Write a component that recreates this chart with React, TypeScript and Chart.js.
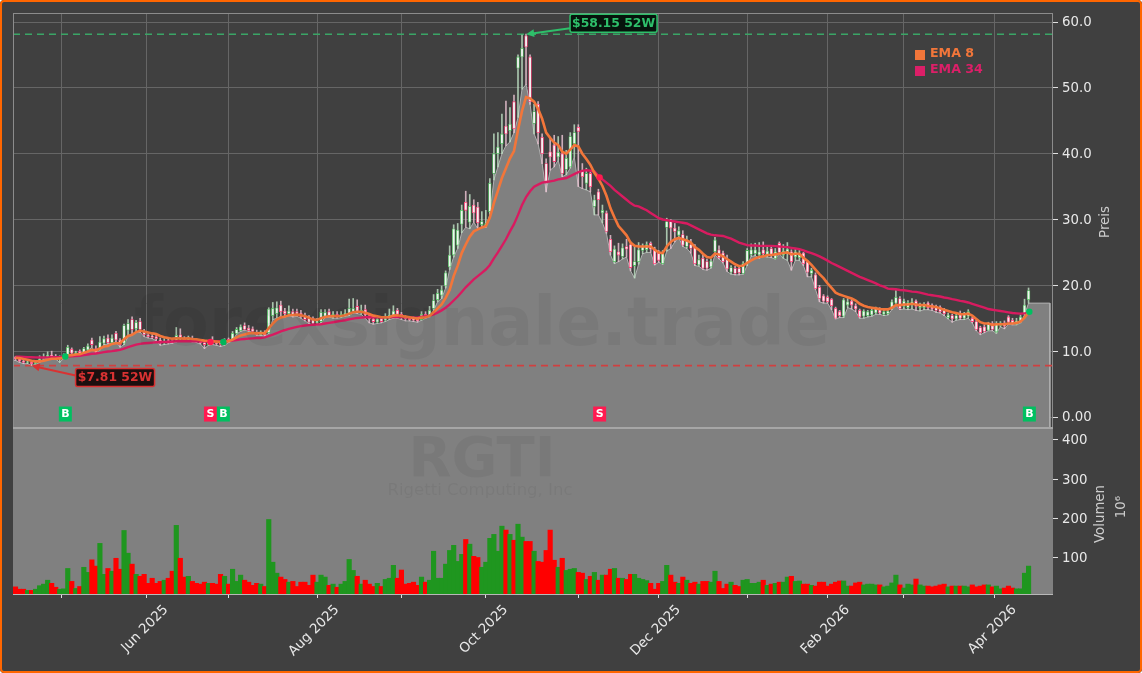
import React, { useEffect, useRef } from 'react';
import { Chart, registerables } from 'chart.js';

Chart.register(...registerables);

const FONT = '"DejaVu Sans"';

const opens = [
    9.1,8.8,8.5,8.3,8.3,8.1,8.4,8.9,9.1,9.4,
    9.2,8.9,9.1,9.2,10.3,9.6,10.0,9.8,10.2,11.7,
    10.4,10.3,11.2,12.0,11.3,12.7,11.7,11.2,13.2,14.8,
    13.4,14.5,13.0,12.5,12.3,12.2,11.7,11.2,11.6,11.6,
    11.6,12.5,12.0,11.7,12.0,11.7,11.5,11.3,11.0,11.7,
    11.3,11.3,11.0,11.8,11.7,12.7,13.1,13.9,13.5,13.4,
    12.9,12.5,12.9,12.8,15.4,15.7,17.0,16.1,15.7,16.0,
    16.0,15.8,15.4,15.0,15.0,14.3,14.5,15.3,16.0,15.3,
    15.6,15.2,15.4,15.5,16.0,16.8,15.8,16.3,15.4,14.9,
    14.4,15.0,14.7,15.0,15.3,16.2,15.6,15.2,15.0,15.0,
    14.9,14.8,15.6,15.4,16.5,17.8,18.5,19.9,22.8,24.6,
    26.1,29.3,32.6,29.6,32.2,31.9,29.2,29.0,31.2,37.0,
    40.0,41.5,44.2,43.5,47.9,53.0,54.7,57.9,54.7,44.6,
    47.5,42.5,38.5,40.3,41.3,39.5,40.0,37.6,38.0,41.5,
    44.0,37.5,35.5,37.0,32.0,34.2,31.0,31.0,27.0,23.6,
    25.1,24.4,25.9,26.2,23.0,23.6,25.3,25.4,26.4,25.4,
    24.9,23.3,28.8,29.7,28.7,27.6,27.7,25.9,26.2,25.9,
    23.1,24.1,23.6,22.8,25.1,25.4,24.9,24.0,22.0,22.6,
    22.6,21.8,23.3,24.7,24.8,24.6,25.4,24.6,25.6,24.1,
    26.4,24.6,24.9,25.1,24.3,24.2,24.9,23.6,21.8,21.6,
    19.7,18.4,18.2,17.9,16.5,16.0,15.3,17.0,17.6,16.9,
    16.2,15.3,15.4,15.5,15.8,16.3,15.6,15.7,16.5,17.3,
    18.0,16.8,16.6,17.0,17.6,16.6,16.6,17.3,17.0,16.8,
    16.7,16.3,15.1,15.4,14.9,15.7,15.0,15.3,15.0,14.5,
    13.6,13.7,13.2,14.2,12.9,13.9,14.3,15.2,14.7,14.1,
    14.5,15.7,17.8,
];

const closes = [
    8.8,8.5,8.3,8.4,8.1,8.3,8.8,9.1,9.4,9.2,
    8.9,9.1,9.3,10.6,9.7,9.8,9.7,10.4,10.8,11.0,
    9.8,11.4,11.9,11.3,12.0,11.7,11.0,13.9,14.2,13.3,
    14.4,13.3,12.5,12.2,12.1,11.9,11.2,11.5,11.3,11.3,
    12.4,12.0,11.7,12.1,11.6,11.4,11.3,11.0,11.3,11.2,
    11.1,11.0,11.7,11.5,12.7,13.3,13.7,13.3,13.1,13.0,
    12.5,12.9,12.5,16.4,16.5,16.6,16.0,15.7,16.1,15.5,
    15.6,15.2,14.8,14.4,14.2,14.6,15.9,15.9,15.4,15.6,
    15.2,15.6,15.8,16.5,16.5,16.0,16.2,15.5,14.9,14.5,
    14.9,14.5,15.2,15.5,16.1,15.6,15.1,14.9,14.8,14.7,
    14.6,15.6,15.3,16.2,17.7,18.8,19.3,21.9,24.6,28.6,
    28.4,31.4,31.4,32.0,31.0,29.5,29.7,29.4,35.5,40.0,
    41.0,43.0,43.0,44.5,43.8,54.7,56.0,56.2,47.9,46.4,
    43.2,40.0,35.7,39.5,38.8,40.2,37.0,39.3,42.6,43.2,
    43.4,36.5,37.0,35.0,33.0,33.0,31.4,28.2,25.1,25.5,
    24.6,25.7,25.5,22.7,23.6,25.4,25.9,26.2,25.5,23.3,
    23.8,24.9,29.7,28.7,28.2,28.3,26.1,26.8,25.6,23.3,
    23.9,22.6,22.6,23.7,26.9,24.2,23.6,22.5,22.7,21.8,
    21.9,23.3,25.3,25.4,25.4,25.1,24.8,25.2,24.6,25.1,
    25.0,25.2,25.5,23.6,25.1,24.8,23.3,22.0,22.3,19.5,
    18.0,17.6,17.5,16.9,15.0,15.4,17.8,17.5,17.0,16.4,
    15.2,16.1,16.0,16.2,16.5,15.8,16.0,16.1,17.5,18.2,
    16.5,17.6,17.4,17.5,16.8,17.0,17.1,16.6,16.4,16.2,
    16.0,15.7,15.5,14.9,15.4,15.0,15.6,16.0,14.5,13.3,
    12.8,13.0,14.1,13.3,14.2,14.3,13.8,14.4,14.2,14.6,
    15.2,17.0,19.2,
];

const highs = [
    9.2,8.9,8.6,8.6,8.5,8.5,9.3,9.6,9.9,10.0,
    9.5,9.3,9.6,10.9,10.5,10.0,10.2,10.6,11.1,12.0,
    10.8,12.2,12.3,12.5,12.5,13.0,11.9,14.1,14.8,15.2,
    14.7,15.0,13.3,12.7,12.7,12.6,12.0,11.9,11.9,11.9,
    13.6,13.4,12.2,12.3,12.3,11.9,11.7,11.5,11.6,12.2,
    11.6,11.4,11.9,12.0,13.0,13.6,14.0,14.3,13.9,13.7,
    13.2,13.1,13.1,16.6,17.4,17.5,17.6,16.5,16.9,16.4,
    16.4,16.2,15.8,15.4,15.2,15.0,16.3,16.3,16.4,16.0,
    16.0,16.0,16.3,17.9,18.0,17.8,17.0,17.0,15.7,15.2,
    15.2,15.2,15.7,16.4,16.9,16.5,15.9,15.4,15.3,15.2,
    15.1,16.0,16.0,16.8,18.6,19.4,19.9,22.2,26.0,29.2,
    29.4,32.2,34.3,33.8,33.0,32.6,31.2,31.4,36.2,43.0,
    43.2,46.0,48.0,47.0,48.9,55.0,58.0,58.15,55.0,47.5,
    47.9,43.0,39.2,42.5,42.8,42.6,42.8,40.5,43.2,44.4,
    44.4,38.5,37.8,37.2,33.7,34.6,32.2,31.3,27.6,26.0,
    26.4,26.3,27.0,26.6,26.0,26.5,26.3,26.6,26.6,25.8,
    25.3,25.3,30.2,30.0,29.4,28.9,28.3,27.5,27.0,26.2,
    24.6,24.6,24.0,24.0,27.3,26.0,25.2,24.6,23.0,22.9,
    22.9,23.6,25.6,26.3,26.4,26.5,26.6,25.9,26.0,25.6,
    26.6,26.2,26.5,25.4,25.5,25.3,25.0,23.8,22.6,21.9,
    20.0,18.6,18.4,18.0,16.7,16.2,18.0,18.0,17.9,17.2,
    16.4,16.3,16.2,16.4,16.7,16.6,16.3,16.4,17.8,19.2,
    18.3,17.9,17.7,18.0,17.8,17.3,17.4,17.5,17.2,17.0,
    16.9,16.5,15.8,15.6,15.7,16.1,15.9,16.3,15.2,14.7,
    13.8,14.0,14.4,14.5,14.5,14.5,14.6,15.4,15.0,15.0,
    15.5,17.9,19.6,
];

const lows = [
    8.6,8.3,8.1,8.1,7.81,8.0,8.3,8.8,9.0,9.0,
    8.8,8.3,8.9,9.1,9.5,9.5,9.6,9.7,10.1,10.6,
    9.7,10.2,11.0,11.1,11.2,11.4,10.6,11.0,12.2,12.4,
    12.9,12.9,12.2,12.0,11.9,11.6,10.9,11.0,11.1,11.2,
    11.4,11.6,11.5,11.6,11.4,11.3,11.1,10.4,10.9,11.0,
    10.9,10.7,10.9,11.3,11.6,12.6,13.0,13.2,13.0,12.9,
    12.4,12.4,12.3,12.7,14.8,15.0,15.3,15.2,15.4,15.2,
    15.3,15.0,14.6,14.2,14.0,14.0,14.3,15.1,15.2,15.0,
    15.0,15.1,15.3,15.4,15.8,15.7,15.6,15.0,14.3,14.1,
    14.2,14.3,14.5,14.8,15.0,15.0,14.8,14.6,14.6,14.5,
    14.4,14.7,15.0,15.2,16.2,17.5,18.0,19.6,22.4,24.3,
    25.6,28.0,28.8,28.6,29.6,28.6,28.8,28.8,30.8,36.0,
    38.0,40.0,41.2,41.8,43.2,45.5,49.8,50.5,47.5,43.0,
    41.5,38.5,34.2,37.5,38.0,39.0,36.5,36.8,37.8,39.5,
    35.0,34.7,34.5,34.2,30.7,30.7,29.5,27.9,24.6,23.3,
    23.6,24.0,24.3,22.2,21.1,23.2,24.8,25.0,25.0,23.1,
    23.5,23.2,25.2,25.6,26.6,27.2,25.9,25.6,24.9,23.0,
    22.9,22.4,22.3,22.6,24.6,24.0,23.4,22.1,21.7,21.6,
    21.6,21.7,23.0,24.4,24.5,24.1,24.4,24.3,24.2,24.0,
    24.8,24.1,23.8,22.3,23.8,23.8,23.0,21.3,21.3,19.4,
    17.5,17.3,17.3,16.3,14.9,15.1,15.1,16.6,16.4,16.0,
    15.0,15.0,15.2,15.3,15.6,15.6,15.4,15.5,16.3,17.0,
    16.3,16.4,16.3,16.4,16.2,16.1,16.3,16.3,16.2,15.9,
    15.8,15.4,14.9,14.4,14.7,14.8,14.8,15.0,14.3,13.1,
    12.5,12.8,13.1,13.1,12.7,13.7,13.4,14.1,14.0,14.0,
    14.3,15.5,17.3,
];

const ema8 = [
    9.0,8.95,8.8,8.7,8.55,8.45,8.45,8.55,8.7,8.85,
    8.85,8.9,9.0,9.35,9.4,9.5,9.55,9.75,9.95,10.2,
    10.1,10.4,10.7,10.8,11.1,11.2,11.2,11.8,12.3,12.5,
    12.9,13.1,13.0,12.85,12.7,12.6,12.3,12.1,12.0,11.9,
    11.95,11.95,11.9,11.95,11.85,11.8,11.7,11.6,11.55,11.5,
    11.45,11.4,11.45,11.5,11.75,12.1,12.4,12.55,12.7,12.75,
    12.7,12.75,12.7,13.5,14.2,14.8,15.1,15.25,15.45,15.5,
    15.55,15.45,15.3,15.1,14.8,14.75,15.0,15.2,15.3,15.35,
    15.3,15.35,15.45,15.7,15.9,16.0,16.0,15.85,15.65,15.4,
    15.3,15.15,15.15,15.2,15.4,15.45,15.35,15.25,15.15,15.05,
    14.95,15.1,15.15,15.35,15.9,16.5,17.1,18.1,19.3,21.4,
    23.0,24.9,26.2,27.4,28.2,28.5,28.8,29.0,30.3,32.5,
    34.4,36.3,37.8,39.3,40.4,43.6,46.5,48.6,48.4,47.9,
    46.8,45.3,43.2,42.4,41.7,41.3,40.3,40.0,40.6,41.3,
    41.1,40.0,39.2,38.3,37.1,36.2,35.1,33.6,31.7,30.3,
    29.0,28.3,27.6,26.5,26.0,25.9,25.9,25.9,25.9,25.4,
    25.0,24.9,25.9,26.6,27.0,27.2,27.0,26.8,26.5,25.8,
    25.4,24.8,24.3,24.2,24.8,24.7,24.4,24.0,23.6,23.2,
    22.9,23.0,23.4,23.8,24.1,24.3,24.4,24.6,24.6,24.7,
    24.8,24.9,25.0,24.7,24.8,24.8,24.2,23.7,23.1,22.4,
    21.7,21.1,20.3,19.6,18.9,18.6,18.4,18.2,18.0,17.7,
    17.2,16.9,16.7,16.6,16.5,16.4,16.35,16.35,16.6,17.0,
    17.0,17.1,17.1,17.2,17.1,17.0,17.0,16.9,16.8,16.7,
    16.5,16.3,16.1,15.9,15.8,15.6,15.6,15.7,15.4,14.9,
    14.4,14.2,14.2,14.0,14.1,14.1,14.1,14.2,14.2,14.3,
    14.5,15.1,15.9,
];

const ema34 = [
    9.15,9.15,9.12,9.1,9.08,9.06,9.05,9.05,9.06,9.08,
    9.08,9.1,9.12,9.2,9.22,9.25,9.3,9.4,9.5,9.6,
    9.65,9.75,9.85,9.95,10.0,10.1,10.2,10.4,10.6,10.8,
    11.0,11.1,11.2,11.25,11.3,11.35,11.35,11.4,11.4,11.45,
    11.5,11.5,11.5,11.5,11.5,11.5,11.5,11.5,11.5,11.5,
    11.5,11.5,11.5,11.55,11.6,11.7,11.8,11.85,11.9,11.95,
    12.0,12.0,12.1,12.3,12.5,12.75,13.0,13.2,13.4,13.55,
    13.7,13.8,13.9,13.95,14.0,14.05,14.1,14.2,14.3,14.4,
    14.5,14.6,14.7,14.85,14.95,15.05,15.1,15.15,15.15,15.15,
    15.15,15.15,15.15,15.15,15.2,15.2,15.2,15.15,15.15,15.1,
    15.1,15.25,15.3,15.4,15.6,15.85,16.2,16.6,17.1,17.7,
    18.3,19.0,19.7,20.3,20.9,21.4,21.9,22.4,23.1,24.1,
    25.0,26.0,27.0,28.2,29.3,30.7,32.2,33.4,34.3,35.0,
    35.3,35.6,35.7,35.8,35.9,36.1,36.2,36.3,36.6,36.9,
    37.2,37.4,37.5,37.4,37.3,36.6,36.1,35.6,35.1,34.5,
    34.0,33.5,33.0,32.5,32.1,32.0,31.7,31.4,31.0,30.6,
    30.2,30.0,29.9,29.8,29.7,29.6,29.5,29.4,29.1,28.8,
    28.5,28.2,27.9,27.7,27.6,27.55,27.5,27.3,27.1,26.8,
    26.5,26.3,26.1,26.05,26.05,26.0,26.0,26.0,26.0,25.95,
    25.9,25.85,25.8,25.7,25.6,25.5,25.3,25.1,24.9,24.65,
    24.4,24.1,23.75,23.4,23.1,22.8,22.5,22.2,21.9,21.6,
    21.3,21.05,20.8,20.55,20.3,20.0,19.8,19.5,19.45,19.4,
    19.3,19.25,19.15,19.05,19.0,18.9,18.75,18.6,18.5,18.4,
    18.3,18.15,18.05,17.9,17.8,17.65,17.55,17.4,17.2,17.0,
    16.8,16.6,16.4,16.3,16.2,16.1,16.0,15.9,15.8,15.75,
    15.7,15.75,15.8,
];

const volumes = [
    25,19,19,16,16,19,28,32,42,34,
    24,19,20,72,39,21,26,75,62,94,
    78,136,57,72,65,98,70,169,111,83,
    57,52,57,34,47,34,39,42,47,65,
    182,98,50,52,39,34,32,37,34,34,
    32,57,52,32,70,39,55,42,37,29,
    34,32,26,197,88,60,50,44,37,39,
    26,37,37,29,55,37,55,50,29,32,
    24,32,39,95,67,52,32,42,32,26,
    34,26,44,47,80,47,68,32,34,37,
    29,50,37,42,116,47,47,83,118,131,
    90,108,146,134,103,100,75,88,149,159,
    116,180,170,159,144,185,152,141,141,116,
    90,88,118,170,93,75,98,67,70,72,
    62,60,44,52,62,42,55,55,70,72,
    47,47,44,57,57,47,44,41,34,19,
    34,39,80,55,37,34,50,42,34,37,
    32,39,39,37,65,39,21,32,37,29,
    26,42,44,34,34,37,42,29,32,34,
    37,37,50,52,39,40,32,32,29,27,
    37,37,27,32,37,40,40,27,27,35,
    37,30,32,32,30,30,25,27,35,55,
    30,22,32,30,45,30,27,27,25,27,
    30,32,25,27,27,27,27,25,30,25,
    27,30,30,25,27,20,22,27,22,20,
    20,60,78,
];

const priceTicks = [0, 10, 20, 30, 40, 50, 60];
const priceTickLabels = ['0.00', '10.0', '20.0', '30.0', '40.0', '50.0', '60.0'];
const volumeTicks = [100, 200, 300, 400];

// month starts in trading days, every other one has a label
const monthTicks = [11.5, 32.5, 53, 75, 96, 117, 140, 160, 182, 202, 221, 243.5];
const monthLabels = ['', 'Jun 2025', '', 'Aug 2025', '', 'Oct 2025', '', 'Dec 2025', '', 'Feb 2026', '', 'Apr 2026'];

const low52 = 7.81;
const high52 = 58.15;
const low52Index = 4;
const high52Index = 127;

const signalIndex = [12.4, 48.5, 51.7, 145.3, 252.2];
const signalType = ['B', 'S', 'B', 'S', 'B'];
const signalPrice = [9.2, 11.4, 11.4, 36.4, 16.0];

const X_MIN = -0.62;
const X_MAX = 258.08;
const AREA_END = 257.3;
const PRICE_MIN = -1.67;
const PRICE_MAX = 61.37;
const VOL_MIN = 6.8;
const VOL_MAX = 430.6;

const UP = '#4cbb5a';
const DOWN = '#ff3f75';
const GREEN_TEXT = '#2ebf6a';
const RED_TEXT = '#d93232';
const ORANGE = '#f2763a';
const MAGENTA = '#d81b60';

const isUp = (i: number) => closes[i] >= opens[i];
const xs = closes.map((_, i) => i);

function drawArrow(ctx: CanvasRenderingContext2D, x0: number, y0: number, x1: number, y1: number, color: string) {
    const a = Math.atan2(y1 - y0, x1 - x0);
    ctx.strokeStyle = color;
    ctx.fillStyle = color;
    ctx.lineWidth = 2;
    ctx.beginPath();
    ctx.moveTo(x0, y0);
    ctx.lineTo(x1 - 6 * Math.cos(a), y1 - 6 * Math.sin(a));
    ctx.stroke();
    ctx.beginPath();
    ctx.moveTo(x1, y1);
    ctx.lineTo(x1 - 9 * Math.cos(a - 0.45), y1 - 9 * Math.sin(a - 0.45));
    ctx.lineTo(x1 - 9 * Math.cos(a + 0.45), y1 - 9 * Math.sin(a + 0.45));
    ctx.closePath();
    ctx.fill();
}

function drawTag(ctx: CanvasRenderingContext2D, text: string, x: number, y: number, w: number, fg: string, bg: string) {
    ctx.fillStyle = bg;
    ctx.strokeStyle = fg;
    ctx.lineWidth = 1.5;
    ctx.beginPath();
    ctx.roundRect(x, y, w, 18, 2);
    ctx.fill();
    ctx.stroke();
    ctx.fillStyle = fg;
    ctx.font = `bold 12.4px ${FONT}`;
    ctx.textAlign = 'center';
    ctx.textBaseline = 'middle';
    ctx.fillText(text, x + w / 2, y + 9.5);
}

function rotatedText(ctx: CanvasRenderingContext2D, text: string, x: number, y: number) {
    ctx.save();
    ctx.translate(x, y);
    ctx.rotate(-Math.PI / 2);
    ctx.fillText(text, 0, 0);
    ctx.restore();
}

const overlay = {
    id: 'overlay',
    // grey volume panel goes over the vertical grid lines, under the bars
    beforeDatasetsDraw(chart: any) {
        const { ctx, chartArea, scales } = chart;
        ctx.save();
        ctx.fillStyle = '#808080';
        ctx.fillRect(chartArea.left, scales.volume.top, chartArea.width, scales.volume.height);
        ctx.restore();
    },
    afterDatasetsDraw(chart: any) {
        const { ctx, chartArea, scales } = chart;
        const { x, price, volume } = scales;
        ctx.save();

        // watermarks
        ctx.fillStyle = 'rgba(0,0,0,0.055)';
        ctx.textAlign = 'center';
        ctx.textBaseline = 'middle';
        ctx.font = `bold 66.8px ${FONT}`;
        ctx.fillText('forexsignale.trade', 482, 328);
        ctx.font = `bold 56px ${FONT}`;
        ctx.fillText('RGTI', 482, 461);
        ctx.fillStyle = 'rgba(0,0,0,0.05)';
        ctx.font = `16.5px ${FONT}`;
        ctx.fillText('Rigetti Computing, Inc', 480, 491);

        // frame
        ctx.strokeStyle = '#8c8c8c';
        ctx.lineWidth = 1;
        ctx.strokeRect(chartArea.left + 0.5, chartArea.top + 0.5, chartArea.width - 1, volume.top - chartArea.top);
        ctx.strokeStyle = '#a6a6a6';
        ctx.lineWidth = 2;
        ctx.beginPath();
        ctx.moveTo(chartArea.left, volume.top);
        ctx.lineTo(chartArea.right, volume.top);
        ctx.stroke();
        ctx.strokeStyle = '#b8b8b8';
        ctx.lineWidth = 1;
        ctx.beginPath();
        ctx.moveTo(chartArea.left, chartArea.bottom + 0.5);
        ctx.lineTo(chartArea.right, chartArea.bottom + 0.5);
        ctx.stroke();

        // signal markers
        signalIndex.forEach((idx, i) => {
            const px = x.getPixelForValue(idx);
            const py = price.getPixelForValue(0.45);
            const buy = signalType[i] === 'B';
            ctx.fillStyle = buy ? '#00c060' : '#ff1a50';
            ctx.fillRect(px - 6.5, py - 7.5, 13, 15);
            ctx.fillStyle = '#ffffff';
            ctx.font = `bold 11px ${FONT}`;
            ctx.textAlign = 'center';
            ctx.textBaseline = 'middle';
            ctx.fillText(signalType[i], px, py + 0.5);
        });

        // 52 week high / low tags
        const hx = x.getPixelForValue(high52Index);
        const hy = price.getPixelForValue(high52);
        drawArrow(ctx, hx + 44, hy - 6, hx, hy, GREEN_TEXT);
        drawTag(ctx, `$${high52} 52W`, hx + 44, hy - 20, 87, GREEN_TEXT, '#06140c');

        const lx = x.getPixelForValue(low52Index);
        const ly = price.getPixelForValue(low52);
        drawArrow(ctx, lx + 44, ly + 10, lx, ly, RED_TEXT);
        drawTag(ctx, `$${low52} 52W`, lx + 44, ly + 3, 79, RED_TEXT, '#1c0f0f');

        // legend
        ctx.textAlign = 'left';
        ctx.textBaseline = 'middle';
        ctx.font = `bold 12.6px ${FONT}`;
        ctx.fillStyle = ORANGE;
        ctx.fillRect(915, 50, 10, 10);
        ctx.fillText('EMA 8', 930, 54);
        ctx.fillStyle = '#dc1f68';
        ctx.fillRect(915, 66, 10, 10);
        ctx.fillText('EMA 34', 930, 70);

        // axis titles read upwards, which the right hand scale titles do not do
        ctx.fillStyle = '#cccccc';
        ctx.textAlign = 'center';
        ctx.font = `13.3px ${FONT}`;
        rotatedText(ctx, 'Preis', 1106, 222);
        rotatedText(ctx, 'Volumen', 1101, 514);
        rotatedText(ctx, '10⁶', 1122, 507);
        ctx.restore();
    },
};

export default function App() {
    const canvasRef = useRef<HTMLCanvasElement>(null);

    useEffect(() => {
        document.body.style.margin = '0';
        const ctx = canvasRef.current?.getContext('2d');
        if (!ctx) return;

        const areaPoints = [
            { x: X_MIN, y: lows[0] },
            ...xs.map(i => ({ x: i, y: lows[i] })),
            { x: AREA_END, y: lows[lows.length - 1] },
            { x: AREA_END, y: PRICE_MIN },
        ];

        const chart = new Chart(ctx, {
            type: 'bar',
            plugins: [overlay],
            data: {
                datasets: [
                    {
                        type: 'line',
                        data: areaPoints,
                        yAxisID: 'price',
                        order: 10,
                        borderColor: '#b0b0b0',
                        borderWidth: 1,
                        backgroundColor: '#808080',
                        fill: 'start',
                        pointRadius: 0,
                        tension: 0,
                    },
                    {
                        type: 'line',
                        data: [{ x: X_MIN, y: high52 }, { x: X_MAX, y: high52 }],
                        yAxisID: 'price',
                        order: 9,
                        borderColor: '#3aa566',
                        borderWidth: 1.6,
                        borderDash: [7, 5],
                        pointRadius: 0,
                    },
                    {
                        type: 'line',
                        data: [{ x: X_MIN, y: low52 }, { x: X_MAX, y: low52 }],
                        yAxisID: 'price',
                        order: 9,
                        borderColor: '#d04040',
                        borderWidth: 1.8,
                        borderDash: [7, 5],
                        pointRadius: 0,
                    },
                    {
                        type: 'bar',
                        data: xs.map(i => ({ x: i, y: [lows[i], highs[i]] })),
                        yAxisID: 'price',
                        order: 8,
                        grouped: false,
                        barThickness: 1,
                        backgroundColor: xs.map(i => (isUp(i) ? 'rgba(195,230,200,0.8)' : 'rgba(240,200,215,0.8)')),
                    },
                    {
                        type: 'bar',
                        data: xs.map(i => ({ x: i, y: [opens[i], closes[i]] })),
                        yAxisID: 'price',
                        order: 7,
                        grouped: false,
                        barThickness: 2.8,
                        borderWidth: 0.8,
                        borderSkipped: false,
                        backgroundColor: '#f2f2f2',
                        borderColor: xs.map(i => (isUp(i) ? UP : DOWN)),
                    },
                    {
                        type: 'line',
                        data: xs.map(i => ({ x: i, y: ema34[i] })),
                        yAxisID: 'price',
                        order: 6,
                        borderColor: MAGENTA,
                        borderWidth: 2.4,
                        pointRadius: 0,
                        tension: 0,
                    },
                    {
                        type: 'line',
                        data: xs.map(i => ({ x: i, y: ema8[i] })),
                        yAxisID: 'price',
                        order: 5,
                        borderColor: ORANGE,
                        borderWidth: 2.6,
                        pointRadius: 0,
                        tension: 0,
                    },
                    {
                        type: 'scatter',
                        data: signalIndex.map((idx, i) => ({ x: idx, y: signalPrice[i] })),
                        yAxisID: 'price',
                        order: 4,
                        pointRadius: 3.2,
                        pointBorderWidth: 0,
                        pointBackgroundColor: signalType.map(t => (t === 'B' ? '#00c060' : '#ff1a50')),
                    },
                    {
                        type: 'bar',
                        data: xs.map(i => ({ x: i, y: volumes[i] })),
                        yAxisID: 'volume',
                        order: 3,
                        grouped: false,
                        barThickness: 4.5,
                        backgroundColor: xs.map(i => (isUp(i) ? '#1f961f' : '#ff0000')),
                    },
                ],
            } as any,
            options: {
                animation: false,
                responsive: false,
                devicePixelRatio: 1,
                layout: { autoPadding: false, padding: { left: 13, top: 13 } },
                plugins: { legend: { display: false }, tooltip: { enabled: false } },
                scales: {
                    x: {
                        type: 'linear',
                        min: X_MIN,
                        max: X_MAX,
                        offset: false,
                        border: { display: false },
                        grid: { color: '#666666', tickColor: '#e0e0e0', tickLength: 4, offset: false },
                        afterBuildTicks: (scale: any) => {
                            scale.ticks = monthTicks.map(value => ({ value }));
                        },
                        afterFit: (scale: any) => {
                            scale.height = 79;
                        },
                        ticks: {
                            autoSkip: false,
                            maxRotation: 45,
                            minRotation: 45,
                            labelOffset: 20,
                            padding: 4,
                            color: '#e8e8e8',
                            font: { family: FONT, size: 13.5 },
                            callback: (value: any) => monthLabels[monthTicks.indexOf(value)] ?? '',
                        },
                    },
                    price: {
                        type: 'linear',
                        position: 'right',
                        stack: 'panels',
                        stackWeight: 415,
                        min: PRICE_MIN,
                        max: PRICE_MAX,
                        border: { display: false },
                        grid: { color: '#666666', tickColor: '#e0e0e0', tickLength: 5 },
                        afterBuildTicks: (scale: any) => {
                            scale.ticks = priceTicks.map(value => ({ value }));
                        },
                        afterFit: (scale: any) => {
                            scale.width = 89;
                        },
                        ticks: {
                            padding: 4,
                            labelOffset: 1,
                            color: '#e8e8e8',
                            font: { family: FONT, size: 13.3 },
                            callback: (value: any) => priceTickLabels[priceTicks.indexOf(value)],
                        },
                    },
                    volume: {
                        type: 'linear',
                        position: 'right',
                        stack: 'panels',
                        stackWeight: 166,
                        min: VOL_MIN,
                        max: VOL_MAX,
                        border: { display: false },
                        grid: { drawOnChartArea: false, tickColor: '#e0e0e0', tickLength: 5 },
                        afterBuildTicks: (scale: any) => {
                            scale.ticks = volumeTicks.map(value => ({ value }));
                        },
                        afterFit: (scale: any) => {
                            scale.width = 89;
                        },
                        ticks: {
                            padding: 4,
                            labelOffset: 1,
                            color: '#e8e8e8',
                            font: { family: FONT, size: 13.3 },
                        },
                    },
                },
            } as any,
        });

        return () => chart.destroy();
    }, []);

    return (
        <div style={{ position: 'relative', width: 1142, height: 673, background: '#404040', borderRadius: 4, overflow: 'hidden' }}>
            <canvas ref={canvasRef} width={1142} height={673} style={{ display: 'block' }} />
            <div
                style={{
                    position: 'absolute',
                    inset: 0,
                    boxSizing: 'border-box',
                    border: '2px solid #ff6600',
                    borderRadius: 4,
                    pointerEvents: 'none',
                }}
            />
        </div>
    );
}
